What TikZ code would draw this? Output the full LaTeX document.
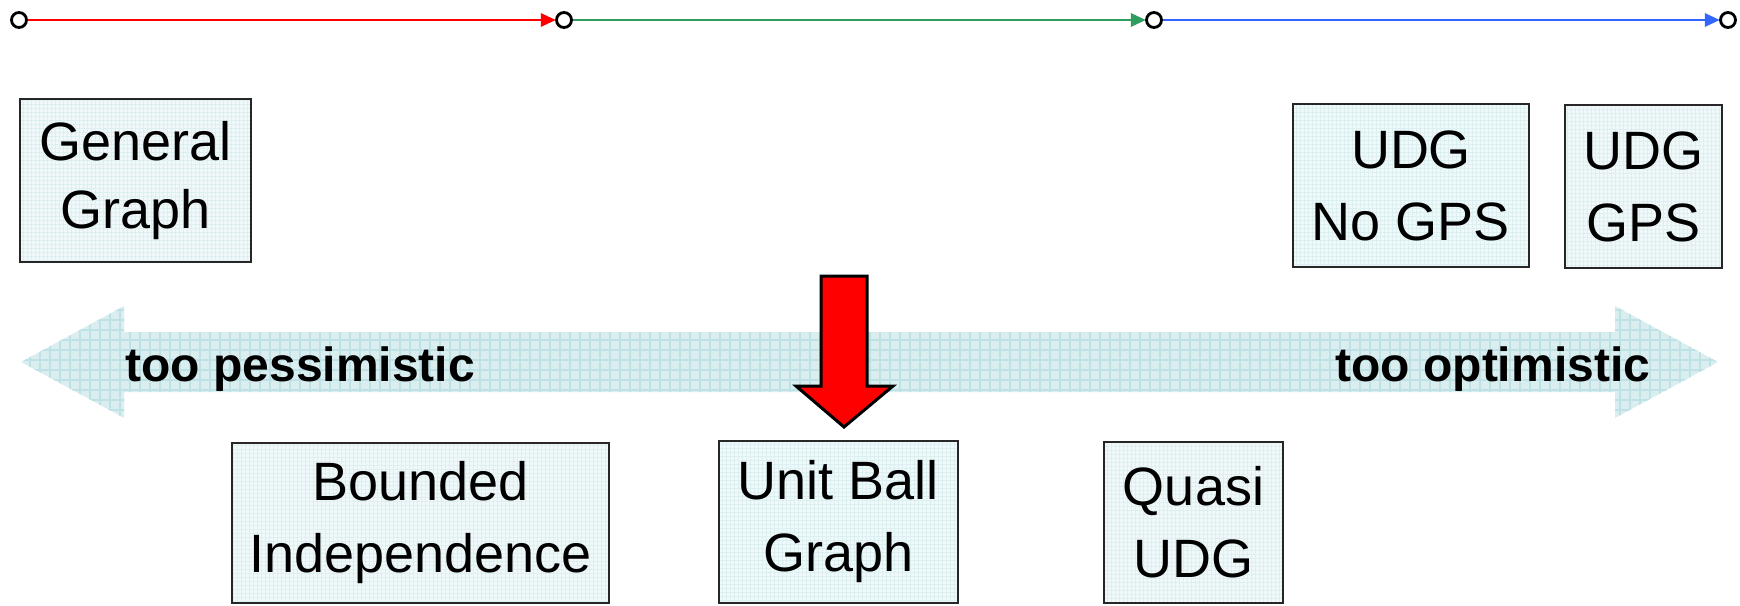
\documentclass[tikz,border=0pt]{standalone}
\usepackage{fontspec}
\setmainfont{Liberation Sans}
\usetikzlibrary{arrows.meta}
\definecolor{lineRed}{RGB}{255,0,0}
\definecolor{lineGreen}{RGB}{46,158,96}
\definecolor{lineBlue}{RGB}{51,102,255}
\definecolor{arrowFill}{RGB}{218,238,240}
\definecolor{arrowGrid}{RGB}{190,225,229}
\definecolor{boxFill}{RGB}{240,248,249}
\definecolor{boxGrid}{RGB}{220,239,241}
\tikzset{
  dot/.style={circle, draw=black, line width=1.4pt, fill=white, minimum size=7.5pt, inner sep=0pt},
  seg/.style={line width=1.4pt, -{Triangle[length=7.5pt,width=6.5pt]}, shorten >=-0.4pt},
  box/.style={draw=black!85, line width=1pt, fill=boxFill, align=center,
    font={\fontsize{27pt}{36pt}\selectfont}, inner sep=0pt,
    path picture={\draw[boxGrid, line width=0.25pt, step=2pt]
      (path picture bounding box.south west) grid (path picture bounding box.north east);}},
  lbl/.style={font={\fontsize{24pt}{28pt}\selectfont\bfseries}, inner sep=0pt, anchor=base west}
}
\begin{document}
\begin{tikzpicture}[x=0.5pt, y=-0.5pt]
\useasboundingbox (0,0) rectangle (1740,605);
% top timeline
\node[dot] (c1) at (19,20) {};
\node[dot] (c2) at (564,20) {};
\node[dot] (c3) at (1154,20) {};
\node[dot] (c4) at (1728,20) {};
\draw[seg, lineRed, -{Triangle[length=7.5pt,width=6.5pt,fill=lineRed]}] (c1) -- (c2);
\draw[seg, lineGreen] (c2) -- (c3);
\draw[seg, lineBlue] (c3) -- (c4);
% double arrow
\path[fill=arrowFill] (21,362) -- (124,306) -- (124,332) -- (1615,332) -- (1615,306) -- (1718,362)
  -- (1615,418) -- (1615,392) -- (124,392) -- (124,418) -- cycle;
\begin{scope}
\clip (21,362) -- (124,306) -- (124,332) -- (1615,332) -- (1615,306) -- (1718,362)
  -- (1615,418) -- (1615,392) -- (124,392) -- (124,418) -- cycle;
\draw[arrowGrid, line width=0.55pt, step=5pt] (0,300) grid (1740,430);
\end{scope}
\node[lbl] (pess) at (125,381) {too pessimistic};
\node[lbl] (opt) at (1335,381) {too optimistic};
% boxes
\node[box, minimum width=115.5pt, minimum height=81.5pt] (gen) at (135.5,180.5) {\raisebox{-2pt}{General}\\Graph};
\node[box, minimum width=118pt, minimum height=81.5pt] (nogps) at (1411,185.5) {UDG\\No GPS};
\node[box, minimum width=78.5pt, minimum height=81.5pt] (gps) at (1643.5,186.5) {UDG\\GPS};
\node[box, minimum width=188.5pt, minimum height=80pt] (bi) at (420.5,523) {Bounded\\Independence};
\node[box, minimum width=119.5pt, minimum height=81pt] (ubg) at (838.5,522) {Unit Ball\\Graph};
\node[box, minimum width=89.5pt, minimum height=80.5pt] (qudg) at (1193.5,522.5) {Quasi\\UDG};
% red block arrow
\draw[fill=lineRed, draw=black, line width=1.5pt, line join=miter]
  (821,276) -- (867,276) -- (867,386) -- (893,386) -- (844,427) -- (796,386) -- (821,386) -- cycle;
\end{tikzpicture}
\end{document}
